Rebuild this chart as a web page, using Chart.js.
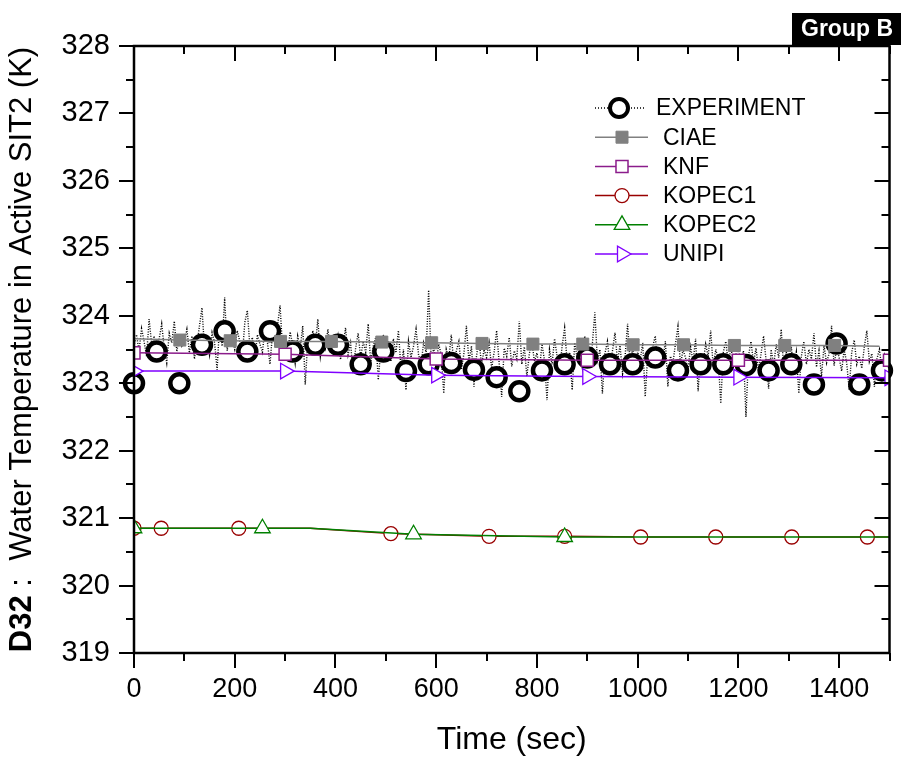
<!DOCTYPE html>
<html>
<head>
<meta charset="utf-8">
<script src="https://cdn.jsdelivr.net/npm/chart.js@4.4.1/dist/chart.umd.min.js"></script>
<style>
html, body { margin: 0; padding: 0; background: #fff; }
</style>
</head>
<body>
<canvas id="myChart" width="903" height="763"></canvas>
<script>
// tick labels
const xTicks = [0, 200, 400, 600, 800, 1000, 1200, 1400];
const yTicks = [319, 320, 321, 322, 323, 324, 325, 326, 327, 328];

// experiment, raw trace (one value every 5 s)
const expRaw = [
    323.55, 323.72, 323.48, 323.81, 323.62, 323.40, 323.95, 323.58, 323.70, 323.45, 323.66, 323.88, 323.52, 323.30, 323.74, 323.60, 323.92, 323.47, 323.68, 323.55,
    323.62, 323.80, 323.45, 323.70, 323.36, 323.58, 323.85, 324.12, 323.50, 323.66, 323.42, 323.75, 323.60, 323.20, 323.88, 323.55, 324.27, 323.48, 323.72, 323.64,
    323.50, 323.78, 323.62, 323.40, 323.90, 324.08, 323.55, 323.68, 323.35, 323.72, 323.58, 323.46, 323.82, 323.60, 323.28, 323.74, 323.56, 323.86, 324.15, 323.50,
    323.62, 323.44, 323.76, 323.58, 323.30, 323.70, 323.52, 323.85, 322.98, 323.64, 323.48, 323.78, 323.56, 323.95, 323.40, 323.66, 323.52, 323.80, 323.45, 323.62,
    323.48, 323.70, 323.35, 323.58, 323.82, 323.42, 323.60, 323.15, 323.52, 323.74, 323.38, 323.62, 323.46, 323.88, 323.30, 323.55, 323.68, 323.05, 323.50, 323.72,
    323.40, 323.58, 323.32, 323.66, 323.45, 323.78, 323.22, 323.50, 322.90, 323.62, 323.38, 323.55, 323.80, 323.42, 323.28, 323.60, 323.46, 324.38, 323.35, 323.52,
    323.30, 323.58, 323.42, 322.85, 323.50, 323.36, 323.72, 323.28, 323.48, 323.62, 323.20, 323.44, 323.85, 323.32, 323.55, 322.95, 323.40, 323.66, 323.26, 323.50,
    323.38, 323.60, 323.22, 323.46, 323.78, 323.30, 322.80, 323.52, 323.40, 323.68, 323.25, 323.48, 323.36, 323.92, 323.28, 323.54, 323.10, 323.44, 323.62, 323.32,
    323.45, 323.20, 323.58, 323.34, 322.75, 323.50, 323.28, 323.66, 323.40, 323.18, 323.55, 323.82, 323.30, 323.46, 322.90, 323.60, 323.36, 323.52, 323.24, 323.70,
    323.42, 323.28, 323.58, 324.05, 323.34, 323.50, 322.85, 323.44, 323.62, 323.26, 323.48, 323.75, 323.32, 323.56, 323.14, 323.40, 323.88, 323.30, 323.52, 323.20,
    323.46, 323.34, 323.60, 322.80, 323.42, 323.28, 323.55, 323.70, 323.22, 323.48, 323.36, 323.62, 322.95, 323.40, 323.30, 323.58, 323.84, 323.26, 323.50, 323.38,
    323.20, 323.54, 323.32, 323.66, 322.88, 323.44, 323.30, 323.58, 323.40, 323.78, 323.24, 323.50, 323.36, 322.70, 323.46, 323.62, 323.28, 323.52, 323.34, 323.42,
    323.56, 323.24, 323.48, 322.50, 323.40, 323.62, 323.30, 323.52, 323.18, 323.44, 323.70, 323.34, 322.92, 323.50, 323.26, 323.58, 323.38, 323.80, 323.22, 323.46,
    323.32, 323.54, 323.20, 323.46, 322.85, 323.40, 323.62, 323.28, 323.50, 323.36, 323.74, 323.24, 323.48, 323.10, 323.56, 323.30, 323.44, 323.85, 323.26, 323.52,
    323.38, 323.18, 323.50, 323.30, 322.90, 323.46, 323.64, 323.28, 323.40, 323.22, 323.54, 323.78, 323.32, 323.44, 322.95, 323.36, 323.50, 323.20, 323.42, 323.30, 323.26
];
const expRawStep = 5;

// experiment, marked points (every 45 s)
const expMark = [
    323.00, 323.47, 323.00, 323.57, 323.77, 323.47, 323.77, 323.47, 323.57, 323.57,
    323.28, 323.47, 323.18, 323.28, 323.30, 323.20, 323.09, 322.88, 323.19, 323.28,
    323.38, 323.28, 323.28, 323.38, 323.19, 323.28, 323.28, 323.27, 323.19, 323.28,
    322.98, 323.59, 322.98, 323.19
];
const expMarkStep = 45;

const ciaeT = [0, 91, 191, 291, 392, 492, 591, 691, 792, 891, 991, 1091, 1192, 1292, 1391, 1480];
const ciaeV = [323.66, 323.64, 323.63, 323.62, 323.62, 323.61, 323.60, 323.59, 323.58, 323.58, 323.57, 323.57, 323.56, 323.56, 323.56, 323.55];

const knfT = [0, 300, 600, 900, 1200, 1500];
const knfV = [323.45, 323.43, 323.36, 323.34, 323.34, 323.34];

const kopec1T = [0, 54, 208, 350, 510, 705, 855, 1006, 1155, 1306, 1456, 1500];
const kopec1V = [320.85, 320.85, 320.85, 320.85, 320.77, 320.73, 320.73, 320.72, 320.72, 320.72, 320.72, 320.72];

const kopec2T = [0, 255, 350, 555, 855, 1500];
const kopec2V = [320.85, 320.85, 320.85, 320.76, 320.72, 320.72];

const unipiT = [0, 300, 600, 900, 1200, 1500];
const unipiV = [323.18, 323.18, 323.12, 323.10, 323.09, 323.08];

const FONT = '"Liberation Sans", Arial, sans-serif';

function pts(t, v) {
    return t.map((x, i) => ({ x: x, y: v[i] }));
}

function drawMarker(ctx, style, x, y, r, fill, stroke, lw, rot) {
    ctx.save();
    ctx.beginPath();
    if (style === 'circle') {
        ctx.arc(x, y, r, 0, Math.PI * 2);
    } else if (style === 'rect') {
        const s = Math.SQRT1_2 * r;
        ctx.rect(x - s, y - s, 2 * s, 2 * s);
    } else if (style === 'triangle') {
        let a = (rot || 0) * Math.PI / 180;
        for (let k = 0; k < 3; k++) {
            const px = x + Math.sin(a) * r, py = y - Math.cos(a) * r;
            if (k === 0) ctx.moveTo(px, py); else ctx.lineTo(px, py);
            a += Math.PI * 2 / 3;
        }
        ctx.closePath();
    }
    ctx.fillStyle = fill;
    ctx.fill();
    ctx.lineWidth = lw;
    ctx.strokeStyle = stroke;
    ctx.stroke();
    ctx.restore();
}

const legendItems = [
    { text: 'EXPERIMENT', color: '#000', dash: [1, 2], lw: 1.3, style: 'circle', r: 9, fill: '#fff', mlw: 4 },
    { text: 'CIAE', color: '#808080', dash: [], lw: 1.5, style: 'rect', r: 8.5, fill: '#808080', mlw: 1 },
    { text: 'KNF', color: '#8B1C8B', dash: [], lw: 1.5, style: 'rect', r: 8.5, fill: '#fff', mlw: 1.5 },
    { text: 'KOPEC1', color: '#990000', dash: [], lw: 1.5, style: 'circle', r: 7, fill: '#fff', mlw: 1.3 },
    { text: 'KOPEC2', color: '#008000', dash: [], lw: 1.5, style: 'triangle', r: 9, fill: '#fff', mlw: 1.3 },
    { text: 'UNIPI', color: '#8000FF', dash: [], lw: 1.5, style: 'triangle', r: 9, fill: '#fff', mlw: 1.3, rot: 90 }
];

const framePlugin = {
    id: 'frame',
    afterDraw(chart) {
        const ctx = chart.ctx;
        const a = chart.chartArea;
        const xs = chart.scales.x, ys = chart.scales.y;
        ctx.save();
        ctx.strokeStyle = '#000';
        ctx.lineWidth = 2.5;
        ctx.strokeRect(a.left, a.top, a.right - a.left, a.bottom - a.top);

        // ticks: out on left/bottom, in on top/right
        ctx.lineWidth = 2;
        ctx.beginPath();
        for (let v = 319; v <= 328; v += 0.5) {
            const y = Math.round(ys.getPixelForValue(v));
            const len = Number.isInteger(v) ? 15 : 8;
            ctx.moveTo(a.left - len, y); ctx.lineTo(a.left, y);
            ctx.moveTo(a.right, y); ctx.lineTo(a.right - len, y);
        }
        for (let v = 0; v <= 1500; v += 100) {
            const x = Math.round(xs.getPixelForValue(v));
            const len = v % 200 === 0 ? 15 : 8;
            ctx.moveTo(x, a.bottom); ctx.lineTo(x, a.bottom + len);
            ctx.moveTo(x, a.top); ctx.lineTo(x, a.top + len);
        }
        ctx.stroke();

        // y axis title with bold station tag
        ctx.save();
        ctx.translate(22, (a.top + a.bottom) / 2);
        ctx.rotate(-Math.PI / 2);
        ctx.textBaseline = 'middle';
        ctx.fillStyle = '#000';
        const boldF = 'bold 31px ' + FONT, normF = '31px ' + FONT;
        const p1 = 'D32', p2 = ' :  Water Temperature in Active SIT2 (K)';
        ctx.font = boldF; const w1 = ctx.measureText(p1).width;
        ctx.font = normF; const w2 = ctx.measureText(p2).width;
        let sx = -(w1 + w2) / 2;
        ctx.font = boldF; ctx.fillText(p1, sx, 0);
        ctx.font = normF; ctx.fillText(p2, sx + w1, 0);
        ctx.restore();

        // group tag
        ctx.fillStyle = '#000';
        ctx.fillRect(792, 13, 109, 32);
        ctx.fillStyle = '#fff';
        ctx.font = 'bold 23px ' + FONT;
        ctx.textAlign = 'center';
        ctx.textBaseline = 'middle';
        ctx.fillText('Group B', 847, 30);

        // legend
        ctx.textAlign = 'left';
        legendItems.forEach((it, i) => {
            const y = 108 + i * 29.2;
            ctx.save();
            ctx.strokeStyle = it.color;
            ctx.lineWidth = it.lw;
            ctx.setLineDash(it.dash);
            ctx.beginPath();
            ctx.moveTo(595, y); ctx.lineTo(i === 0 ? 644 : 648, y);
            ctx.stroke();
            ctx.restore();
            drawMarker(ctx, it.style, i === 0 ? 619 : 622, y, it.r, it.fill, it.color, it.mlw, it.rot);
            ctx.fillStyle = '#000';
            ctx.font = '23px ' + FONT;
            ctx.fillText(it.text, i === 0 ? 656 : 663, y + 1);
        });
        ctx.restore();
    }
};

const ctx = document.getElementById('myChart');
const myChart = new Chart(ctx, {
    type: 'line',
    data: {
        datasets: [
            {
                label: 'CIAE',
                data: pts(ciaeT, ciaeV),
                borderColor: '#808080',
                backgroundColor: '#808080',
                borderWidth: 1.5,
                pointStyle: 'rect',
                pointRadius: c => (c.dataIndex === 0 || c.dataIndex === ciaeT.length - 1) ? 0 : 8.5,
                pointBorderWidth: 1,
                order: 2
            },
            {
                label: 'KNF',
                data: pts(knfT, knfV),
                borderColor: '#8B1C8B',
                backgroundColor: '#fff',
                borderWidth: 1.5,
                pointStyle: 'rect',
                pointRadius: 8.5,
                pointBorderWidth: 1.5,
                order: 3
            },
            {
                label: 'KOPEC1',
                data: pts(kopec1T, kopec1V),
                borderColor: '#990000',
                backgroundColor: '#fff',
                borderWidth: 1.5,
                pointStyle: 'circle',
                pointRadius: c => (c.dataIndex === 3 || c.dataIndex === kopec1T.length - 1) ? 0 : 7,
                pointBorderWidth: 1.3,
                order: 5
            },
            {
                label: 'KOPEC2',
                data: pts(kopec2T, kopec2V),
                borderColor: '#008000',
                backgroundColor: '#fff',
                borderWidth: 1.5,
                pointStyle: 'triangle',
                pointRadius: c => (c.dataIndex === 2 || c.dataIndex === kopec2T.length - 1) ? 0 : 9,
                pointBorderWidth: 1.3,
                order: 4
            },
            {
                label: 'UNIPI',
                data: pts(unipiT, unipiV),
                borderColor: '#8000FF',
                backgroundColor: '#fff',
                borderWidth: 1.5,
                pointStyle: 'triangle',
                pointRotation: 90,
                pointRadius: 9,
                pointBorderWidth: 1.3,
                order: 1
            },
            {
                label: 'EXPERIMENT marks',
                data: expMark.map((v, i) => ({ x: i * expMarkStep, y: v })),
                showLine: false,
                borderColor: '#000',
                backgroundColor: '#fff',
                pointStyle: 'circle',
                pointRadius: 9,
                pointBorderWidth: 4.5,
                clip: false,
                order: 8
            },
            {
                label: 'EXPERIMENT',
                data: expRaw.map((v, i) => ({ x: i * expRawStep, y: v })),
                borderColor: '#000',
                borderWidth: 1.4,
                borderDash: [1, 1.5],
                pointRadius: 0,
                order: 9
            }
        ]
    },
    options: {
        responsive: false,
        animation: false,
        layout: { padding: { top: 46, right: 13, left: 0, bottom: 0 } },
        plugins: {
            legend: { display: false },
            tooltip: { enabled: false }
        },
        scales: {
            x: {
                type: 'linear',
                min: 0,
                max: 1500,
                grid: { display: false, drawTicks: false },
                border: { display: false },
                ticks: {
                    font: { family: FONT, size: 27 }, color: '#000', padding: 20, maxRotation: 0,
                    callback: v => String(v)
                },
                afterBuildTicks: s => { s.ticks = xTicks.map(v => ({ value: v })); },
                afterFit: s => { s.height = 110; },
                title: { display: true, text: 'Time (sec)', font: { family: FONT, size: 32 }, color: '#000', padding: { top: 12 } }
            },
            y: {
                type: 'linear',
                min: 319,
                max: 328,
                grid: { display: false, drawTicks: false },
                border: { display: false },
                ticks: { font: { family: FONT, size: 29 }, color: '#000', padding: 24, callback: v => String(v) },
                afterBuildTicks: s => { s.ticks = yTicks.map(v => ({ value: v })); },
                afterFit: s => { s.width = 134; }
            }
        }
    },
    plugins: [framePlugin]
});
</script>
</body>
</html>
